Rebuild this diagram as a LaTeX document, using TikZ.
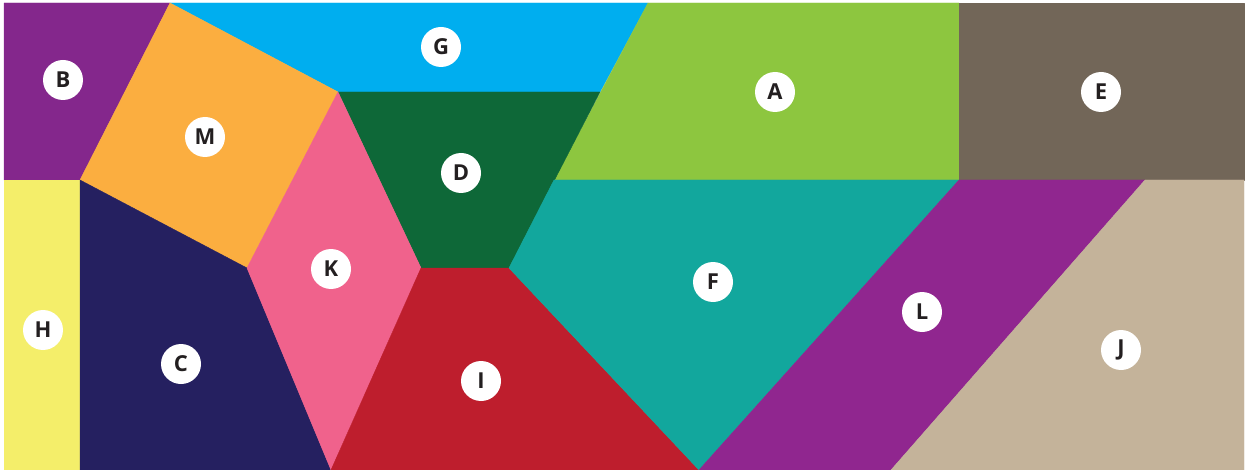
\documentclass[tikz,border=0pt]{standalone}
\usepackage{fontspec}
\setmainfont{Open Sans}
\definecolor{cB}{RGB}{132,39,140}
\definecolor{cG}{RGB}{0,174,239}
\definecolor{cM}{RGB}{251,174,64}
\definecolor{cA}{RGB}{141,198,63}
\definecolor{cE}{RGB}{114,102,88}
\definecolor{cD}{RGB}{14,104,56}
\definecolor{cH}{RGB}{244,238,106}
\definecolor{cC}{RGB}{37,32,96}
\definecolor{cK}{RGB}{240,98,140}
\definecolor{cI}{RGB}{190,30,45}
\definecolor{cF}{RGB}{18,167,157}
\definecolor{cL}{RGB}{144,38,143}
\definecolor{cJ}{RGB}{196,179,154}
\definecolor{ink}{RGB}{35,31,32}
\begin{document}
\begin{tikzpicture}[x=1pt,y=-1pt,
  piece/.style={fill=#1,draw=#1,line width=0.4pt,line join=round},
  tag/.style={circle,fill=white,minimum size=40pt,inner sep=0pt,
    font=\fontsize{22}{22}\selectfont\bfseries,text=ink}]
\useasboundingbox (0,0) rectangle (1246,470);
% coordinates
\coordinate (tl) at (4,3);
\coordinate (t1) at (170,3);
\coordinate (t2) at (648,3);
\coordinate (t3) at (959,3);
\coordinate (tr) at (1244,3);
\coordinate (bl) at (80,180);
\coordinate (l1) at (4,180);
\coordinate (g1) at (338,92);
\coordinate (g2) at (600,92);
\coordinate (m3) at (247,268);
\coordinate (a1) at (554,180);
\coordinate (e1) at (959,180);
\coordinate (j1) at (1145,180);
\coordinate (r1) at (1244,180);
\coordinate (d1) at (421,268);
\coordinate (d2) at (509,268);
\coordinate (b0) at (4,470);
\coordinate (b1) at (80,470);
\coordinate (b2) at (331,470);
\coordinate (b3) at (699,470);
\coordinate (b4) at (891,470);
\coordinate (br) at (1244,470);
% pieces
\path[piece=cB] (tl) -- (t1) -- (bl) -- (l1) -- cycle;
\path[piece=cG] (t1) -- (t2) -- (g2) -- (g1) -- cycle;
\path[piece=cM] (t1) -- (g1) -- (m3) -- (bl) -- cycle;
\path[piece=cA] (t2) -- (t3) -- (e1) -- (a1) -- cycle;
\path[piece=cE] (t3) -- (tr) -- (r1) -- (e1) -- cycle;
\path[piece=cD] (g1) -- (g2) -- (d2) -- (d1) -- cycle;
\path[piece=cH] (l1) -- (bl) -- (b1) -- (b0) -- cycle;
\path[piece=cC] (bl) -- (m3) -- (b2) -- (b1) -- cycle;
\path[piece=cK] (g1) -- (d1) -- (b2) -- (m3) -- cycle;
\path[piece=cI] (d1) -- (d2) -- (b3) -- (b2) -- cycle;
\path[piece=cF] (a1) -- (e1) -- (b3) -- (d2) -- cycle;
\path[piece=cL] (e1) -- (j1) -- (b4) -- (b3) -- cycle;
\path[piece=cJ] (j1) -- (r1) -- (br) -- (b4) -- cycle;
% labels
\node[tag] (lB) at (63,80) {B};
\node[tag] (lG) at (441,47) {G};
\node[tag] (lM) at (205,137) {M};
\node[tag] (lA) at (775,92) {A};
\node[tag] (lE) at (1101,92) {E};
\node[tag] (lD) at (461,173) {D};
\node[tag] (lK) at (331,269) {K};
\node[tag] (lF) at (713,282) {F};
\node[tag] (lL) at (922,312) {L};
\node[tag] (lJ) at (1121,350) {J};
\node[tag] (lH) at (43,330) {H};
\node[tag] (lC) at (181,364) {C};
\node[tag] (lI) at (481,381) {I};
\end{tikzpicture}
\end{document}
